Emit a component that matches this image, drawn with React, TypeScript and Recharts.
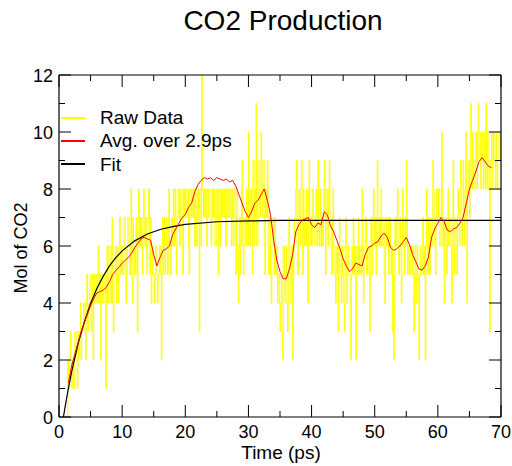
import React from 'react';
import { LineChart, Line, XAxis, YAxis } from 'recharts';

const FONT = '"Liberation Sans", Arial, Helvetica, sans-serif';

// Raw data sampled every 0.1 ps (integer molecule counts), one row per ps
const RAW_STEP = 0.1;
const rawValues: number[] = [
  0, 0, 0, 0, 0, 0, 0, 0, 0, 0,
  0, 0, 0, 0, 2, 1, 1, 2, 3, 2,
  1, 2, 2, 1, 1, 3, 3, 2, 2, 1,
  3, 2, 2, 3, 4, 2, 3, 3, 3, 4,
  4, 3, 2, 4, 5, 3, 3, 4, 4, 5,
  5, 3, 4, 5, 2, 4, 5, 4, 4, 5,
  5, 4, 6, 5, 4, 5, 2, 4, 5, 4,
  4, 5, 5, 4, 1, 5, 6, 4, 5, 6,
  6, 5, 4, 6, 7, 4, 3, 5, 5, 6,
  5, 4, 6, 5, 4, 6, 7, 5, 5, 6,
  6, 5, 5, 7, 7, 6, 4, 5, 6, 7,
  7, 6, 5, 6, 8, 5, 4, 7, 6, 5,
  6, 5, 7, 6, 3, 7, 8, 6, 7, 6,
  7, 6, 5, 7, 8, 6, 6, 7, 7, 5,
  6, 7, 8, 6, 5, 7, 4, 5, 6, 5,
  5, 4, 4, 6, 6, 5, 4, 5, 5, 6,
  6, 5, 2, 6, 7, 5, 6, 7, 5, 6,
  7, 6, 5, 7, 8, 6, 6, 5, 7, 6,
  7, 8, 6, 7, 8, 6, 5, 7, 7, 8,
  8, 6, 7, 8, 8, 7, 5, 8, 8, 7,
  8, 7, 7, 8, 8, 6, 5, 8, 8, 7,
  8, 7, 7, 8, 8, 6, 8, 7, 6, 8,
  8, 7, 3, 8, 8, 6, 12, 8, 8, 7,
  8, 7, 8, 8, 6, 8, 8, 7, 8, 8,
  8, 6, 7, 8, 8, 7, 8, 6, 6, 8,
  8, 7, 5, 8, 8, 6, 8, 7, 7, 8,
  8, 7, 8, 8, 6, 8, 8, 7, 8, 8,
  7, 8, 8, 6, 8, 7, 6, 8, 8, 7,
  5, 7, 8, 6, 4, 6, 7, 5, 6, 8,
  9, 6, 5, 7, 7, 6, 6, 8, 8, 6,
  10, 7, 6, 8, 8, 7, 5, 9, 9, 6,
  8, 7, 11, 6, 6, 9, 9, 7, 7, 8,
  10, 8, 7, 9, 9, 6, 5, 8, 8, 7,
  9, 6, 5, 7, 7, 5, 4, 6, 6, 7,
  6, 5, 7, 5, 5, 6, 4, 5, 5, 4,
  3, 4, 5, 3, 2, 6, 6, 5, 4, 5,
  6, 4, 3, 5, 7, 6, 5, 4, 4, 6,
  2, 5, 6, 7, 7, 8, 9, 6, 5, 7,
  8, 7, 6, 8, 9, 7, 5, 8, 7, 6,
  7, 6, 8, 7, 4, 8, 9, 7, 6, 7,
  6, 7, 8, 7, 7, 6, 6, 8, 7, 6,
  9, 7, 6, 7, 8, 6, 7, 6, 6, 8,
  9, 7, 5, 8, 8, 7, 6, 8, 9, 7,
  7, 6, 5, 7, 8, 6, 6, 5, 4, 6,
  6, 5, 3, 6, 7, 5, 5, 4, 6, 5,
  5, 4, 3, 6, 7, 5, 4, 5, 6, 5,
  5, 4, 2, 5, 6, 5, 7, 6, 5, 6,
  2, 5, 6, 5, 7, 6, 5, 6, 6, 5,
  8, 6, 4, 6, 6, 7, 7, 5, 5, 6,
  6, 5, 3, 6, 7, 6, 5, 7, 8, 6,
  7, 6, 5, 7, 9, 6, 6, 7, 6, 7,
  8, 6, 6, 7, 7, 5, 4, 6, 7, 6,
  6, 7, 5, 6, 7, 6, 5, 6, 3, 5,
  2, 5, 7, 6, 6, 7, 8, 6, 5, 6,
  7, 6, 4, 6, 8, 7, 6, 5, 7, 6,
  9, 7, 5, 6, 6, 5, 5, 6, 6, 5,
  6, 5, 3, 5, 6, 4, 5, 6, 5, 4,
  2, 5, 6, 5, 5, 6, 7, 5, 5, 6,
  2, 6, 8, 6, 5, 7, 6, 5, 7, 6,
  6, 7, 9, 8, 7, 6, 5, 7, 8, 7,
  7, 8, 8, 6, 6, 7, 10, 7, 6, 7,
  4, 6, 7, 6, 5, 7, 8, 6, 6, 7,
  7, 6, 4, 6, 9, 6, 5, 7, 7, 6,
  5, 7, 8, 7, 6, 8, 9, 7, 6, 7,
  9, 7, 6, 8, 10, 7, 4, 8, 8, 9,
  7, 9, 11, 8, 8, 10, 9, 8, 8, 9,
  10, 9, 8, 10, 11, 9, 9, 10, 8, 9,
  10, 9, 8, 10, 9, 8, 11, 9, 8, 10,
  10, 8, 3, 9, 9, 10, 8, 9, 10, 9,
  9, 8, 10, 9, 8, 9, 9, 10, 10, 9,
  9,
];

// Running average over 2.9 ps
const avgTimes: number[] = [
  1.5, 2, 2.5, 3, 3.5, 4, 4.5, 5, 5.5, 6, 6.5, 7, 7.5, 8, 8.5, 9, 9.5, 10, 10.5, 11,
  11.5, 12, 12.5, 13, 13.5, 14, 14.5, 15, 15.5, 16, 16.5, 17, 17.5, 18, 18.5, 19, 19.5, 20, 20.5, 21,
  21.5, 22, 22.5, 23, 23.5, 24, 24.5, 25, 25.5, 26, 26.5, 27, 27.5, 28, 28.5, 29, 29.5, 30, 30.5, 31,
  31.5, 32, 32.5, 33, 33.5, 34, 34.5, 35, 35.5, 36, 36.5, 37, 37.5, 38, 38.5, 39, 39.5, 40, 40.5, 41,
  41.5, 42, 42.5, 43, 43.5, 44, 44.5, 45, 45.5, 46, 46.5, 47, 47.5, 48, 48.5, 49, 49.5, 50, 50.5, 51,
  51.5, 52, 52.5, 53, 53.5, 54, 54.5, 55, 55.5, 56, 56.5, 57, 57.5, 58, 58.5, 59, 59.5, 60, 60.5, 61,
  61.5, 62, 62.5, 63, 63.5, 64, 64.5, 65, 65.5, 66, 66.5, 67, 67.5, 68, 68.5,
];
const avgValues: number[] = [
  1.2, 1.8, 2.2, 2.6, 3.0, 3.3, 3.6, 3.9, 4.15, 4.35, 4.4, 4.45, 4.55, 4.75, 5.0, 5.15, 5.25, 5.4, 5.5, 5.6,
  5.75, 5.95, 6.1, 6.25, 6.3, 6.25, 6.2, 5.7, 5.3, 5.6, 5.85, 5.9, 6.0, 6.4, 6.6, 6.8, 7.0, 7.1, 7.35, 7.5,
  7.9, 8.15, 8.3, 8.4, 8.35, 8.4, 8.3, 8.4, 8.35, 8.3, 8.35, 8.25, 8.3, 8.1, 7.8, 7.5, 7.2, 7.0, 7.2, 7.5,
  7.6, 7.8, 8.0, 7.6, 7.1, 6.2, 5.5, 5.1, 4.85, 4.85, 5.2, 5.7, 6.5, 6.75, 6.9, 6.95, 7.0, 6.75, 6.65, 6.8,
  6.75, 7.2, 7.1, 6.7, 6.5, 6.2, 5.9, 5.55, 5.3, 5.1, 5.2, 5.4, 5.35, 5.3, 5.7, 5.95, 6.0, 6.1, 6.15, 6.35,
  6.45, 6.3, 5.95, 5.85, 5.9, 6.0, 6.15, 6.3, 6.05, 5.7, 5.45, 5.2, 5.15, 5.3, 5.6, 6.3, 6.6, 6.8, 7.0, 6.85,
  6.55, 6.5, 6.6, 6.65, 6.8, 7.0, 7.5, 8.0, 8.3, 8.6, 8.95, 9.1, 8.95, 8.8, 8.75,
];

// Exponential fit
const fitTimes: number[] = [0.7, 1, 1.5, 2, 3, 4, 5, 6, 7, 8, 9, 10, 12, 14, 16, 18, 20, 25, 30, 35, 40, 50, 60, 70];
const fitValues: number[] = [0, 0.4, 1.02, 1.58, 2.55, 3.33, 3.98, 4.51, 4.94, 5.3, 5.59, 5.83, 6.18, 6.42, 6.58, 6.68, 6.76, 6.85, 6.88, 6.9, 6.9, 6.9, 6.9, 6.9];

const xTicks: number[] = [0, 5, 10, 15, 20, 25, 30, 35, 40, 45, 50, 55, 60, 65, 70];
const yTicks: number[] = [0, 1, 2, 3, 4, 5, 6, 7, 8, 9, 10, 11, 12];

const rawData = rawValues.map((v, i) => ({ t: Math.round(i * RAW_STEP * 10) / 10, v }));
const avgData = avgTimes.map((t, i) => ({ t, v: avgValues[i] }));
const fitData = fitTimes.map((t, i) => ({ t, v: fitValues[i] }));

const MAJOR = 12;
const MINOR = 6;

const BottomTick = (props: any) => {
  const { x, y, payload } = props;
  const v = payload.value;
  const major = v % 10 === 0;
  return (
    <g>
      <line x1={x} x2={x} y1={y} y2={y - (major ? MAJOR : MINOR)} stroke="#000" strokeWidth={1} />
      {major && (
        <text x={x} y={y + 21} textAnchor="middle" fontSize={18} fontFamily={FONT} fill="#000">
          {v}
        </text>
      )}
    </g>
  );
};

const TopTick = (props: any) => {
  const { x, y, payload } = props;
  const major = payload.value % 10 === 0;
  return <line x1={x} x2={x} y1={y} y2={y + (major ? MAJOR : MINOR)} stroke="#000" strokeWidth={1} />;
};

const LeftTick = (props: any) => {
  const { x, y, payload } = props;
  const v = payload.value;
  const major = v % 2 === 0;
  return (
    <g>
      <line x1={x} x2={x + (major ? MAJOR : MINOR)} y1={y} y2={y} stroke="#000" strokeWidth={1} />
      {major && (
        <text x={x - 6} y={y + 6.5} textAnchor="end" fontSize={18} fontFamily={FONT} fill="#000">
          {v}
        </text>
      )}
    </g>
  );
};

const RightTick = (props: any) => {
  const { x, y, payload } = props;
  const major = payload.value % 2 === 0;
  return <line x1={x} x2={x - (major ? MAJOR : MINOR)} y1={y} y2={y} stroke="#000" strokeWidth={1} />;
};

const legendItems = [
  { label: 'Raw Data', color: '#ffff00' },
  { label: 'Avg. over 2.9ps', color: '#ff0000' },
  { label: 'Fit', color: '#000000' },
];

const W = 512;
const H = 466;

export default function App() {
  return (
    <div style={{ position: 'relative', width: W, height: H, fontFamily: FONT, background: '#fff', overflow: 'hidden' }}>
      <style>{'html,body{margin:0;padding:0;overflow:hidden;}'}</style>
      <LineChart
        width={W}
        height={H}
        margin={{ top: 74, right: 10, bottom: 0, left: 0 }}
        style={{ overflow: 'visible' }}
      >
        <XAxis
          dataKey="t"
          type="number"
          domain={[0, 70]}
          ticks={xTicks}
          interval={0}
          allowDataOverflow
          height={49}
          tickSize={0}
          tickMargin={0}
          tickLine={false}
          axisLine={{ stroke: '#000', strokeWidth: 1.2 }}
          tick={<BottomTick />}
        />
        <XAxis
          xAxisId="top"
          orientation="top"
          dataKey="t"
          type="number"
          domain={[0, 70]}
          ticks={xTicks}
          interval={0}
          allowDataOverflow
          height={1}
          tickSize={0}
          tickMargin={0}
          tickLine={false}
          axisLine={{ stroke: '#000', strokeWidth: 1.2 }}
          tick={<TopTick />}
        />
        <YAxis
          type="number"
          domain={[0, 12]}
          ticks={yTicks}
          interval={0}
          allowDataOverflow
          width={59}
          tickSize={0}
          tickMargin={0}
          tickLine={false}
          axisLine={{ stroke: '#000', strokeWidth: 1.2 }}
          tick={<LeftTick />}
        />
        <YAxis
          yAxisId="right"
          orientation="right"
          type="number"
          domain={[0, 12]}
          ticks={yTicks}
          interval={0}
          allowDataOverflow
          width={1}
          tickSize={0}
          tickMargin={0}
          tickLine={false}
          axisLine={{ stroke: '#000', strokeWidth: 1.2 }}
          tick={<RightTick />}
        />
        <Line
          data={rawData}
          dataKey="v"
          type="stepAfter"
          stroke="#ffff00"
          strokeWidth={1}
          dot={false}
          isAnimationActive={false}
        />
        <Line
          data={fitData}
          dataKey="v"
          type="linear"
          stroke="#000000"
          strokeWidth={1.2}
          dot={false}
          isAnimationActive={false}
        />
        <Line
          data={avgData}
          dataKey="v"
          type="linear"
          stroke="#ff0000"
          strokeWidth={1}
          dot={false}
          isAnimationActive={false}
        />
      </LineChart>

      {/* Title */}
      <div
        style={{
          position: 'absolute', left: 283, top: 21, transform: 'translate(-50%, -50%)',
          fontSize: 28, whiteSpace: 'nowrap', color: '#000', lineHeight: 1.15,
        }}
      >
        CO2 Production
      </div>
      {/* X axis label */}
      <div
        style={{
          position: 'absolute', left: 281, top: 452, transform: 'translate(-50%, -50%)',
          fontSize: 19, whiteSpace: 'nowrap', color: '#000', lineHeight: 1,
        }}
      >
        Time (ps)
      </div>
      {/* Y axis label */}
      <div
        style={{
          position: 'absolute', left: 21, top: 248, transform: 'translate(-50%, -50%) rotate(-90deg)',
          fontSize: 18, whiteSpace: 'nowrap', color: '#000', lineHeight: 1,
        }}
      >
        Mol of CO2
      </div>
      {/* Legend */}
      <div style={{ position: 'absolute', left: 61, top: 106 }}>
        {legendItems.map((it) => (
          <div key={it.label} style={{ display: 'flex', alignItems: 'center', height: 23.3 }}>
            <div style={{ width: 24, height: 2, background: it.color, marginRight: 15 }} />
            <span style={{ fontSize: 19, lineHeight: 1, whiteSpace: 'nowrap', color: '#000' }}>{it.label}</span>
          </div>
        ))}
      </div>
    </div>
  );
}
